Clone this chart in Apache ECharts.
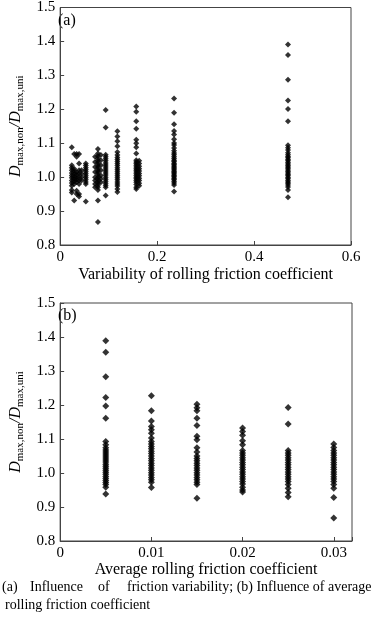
<!DOCTYPE html>
<html>
<head>
<meta charset="utf-8">
<script src="https://cdn.jsdelivr.net/npm/echarts@6/dist/echarts.min.js"></script>
<style>
html,body{margin:0;padding:0;background:#fff;}
#chart{width:371px;height:617px;}
</style>
</head>
<body>
<div id="chart"></div>
<script>
// ---------- Data (a): variability of rolling friction coefficient ----------
const colsA_x = [0.024, 0.029, 0.034, 0.039, 0.044, 0.053, 0.072, 0.078, 0.084, 0.094, 0.118, 0.157, 0.163, 0.235, 0.47];
const colA_0024 = [1.088, 1.035, 1.028, 1.020, 1.012, 1.005, 0.998, 0.990, 0.983, 0.975, 0.962, 0.955];
const colA_0029 = [1.068, 1.025, 1.018, 1.010, 1.002, 0.995, 0.988, 0.980, 0.931];
const colA_0034 = [1.068, 1.060, 1.015, 1.008, 1.000, 0.992, 0.985, 0.960, 0.950];
const colA_0039 = [1.068, 1.040, 1.020, 1.010, 1.000, 0.990, 0.980, 0.950, 0.943];
const colA_0044 = [1.020, 1.010, 1.000, 0.990];
const colA_0053 = [1.040, 1.034, 1.028, 1.022, 1.016, 1.010, 1.004, 0.998, 0.992, 0.986, 0.980, 0.928];
const colA_0072 = [1.060, 1.045, 1.030, 1.015, 1.000, 0.990, 0.980, 0.970];
const colA_0078 = [1.083, 1.070, 1.062, 1.055, 1.048, 1.042, 1.036, 1.030, 1.024, 1.018, 1.012, 1.006, 1.000, 0.994, 0.988, 0.982, 0.976, 0.970, 0.962, 0.931, 0.868];
const colA_0084 = [1.065, 1.050, 1.035, 1.020, 1.005, 0.995, 0.985];
const colA_0094 = [1.198, 1.146, 1.066, 1.060, 1.054, 1.048, 1.042, 1.036, 1.030, 1.024, 1.018, 1.012, 1.006, 1.000, 0.994, 0.988, 0.982, 0.976, 0.970, 0.946];
const colA_0118 = [1.135, 1.120, 1.106, 1.091, 1.074, 1.065, 1.058, 1.052, 1.046, 1.040, 1.034, 1.028, 1.022, 1.016, 1.010, 1.004, 0.998, 0.992, 0.986, 0.980, 0.974, 0.965, 0.956];
const colA_0157 = [1.208, 1.193, 1.165, 1.143, 1.110, 1.100, 1.088, 1.070, 1.050, 1.045, 1.040, 1.035, 1.030, 1.025, 1.020, 1.015, 1.010, 1.005, 1.000, 0.995, 0.990, 0.985, 0.978, 0.970, 0.965];
const colA_0163 = [1.048, 1.040, 1.032, 1.025, 1.018, 1.011, 1.004, 0.997, 0.990, 0.982, 0.975];
const colA_0235 = [1.232, 1.190, 1.156, 1.136, 1.126, 1.112, 1.101, 1.095, 1.086, 1.078, 1.071, 1.066, 1.060, 1.055, 1.050, 1.046, 1.041, 1.037, 1.033, 1.029, 1.025, 1.021, 1.017, 1.013, 1.009, 1.005, 1.001, 0.997, 0.993, 0.988, 0.983, 0.977, 0.958];
const colA_047 = [1.391, 1.360, 1.287, 1.226, 1.201, 1.165, 1.094, 1.087, 1.080, 1.072, 1.066, 1.061, 1.057, 1.052, 1.048, 1.043, 1.039, 1.034, 1.030, 1.026, 1.021, 1.017, 1.012, 1.008, 1.004, 0.999, 0.995, 0.990, 0.986, 0.982, 0.977, 0.971, 0.962, 0.941];
const colsA_y = [colA_0024, colA_0029, colA_0034, colA_0039, colA_0044, colA_0053, colA_0072, colA_0078, colA_0084, colA_0094, colA_0118, colA_0157, colA_0163, colA_0235, colA_047];

// ---------- Data (b): average rolling friction coefficient ----------
const colsB_x = [0.005, 0.01, 0.015, 0.02, 0.025, 0.03];
const colB_0005 = [1.389, 1.355, 1.283, 1.222, 1.197, 1.161, 1.093, 1.083, 1.074, 1.068, 1.062, 1.056, 1.050, 1.044, 1.038, 1.032, 1.026, 1.020, 1.014, 1.008, 1.002, 0.996, 0.990, 0.984, 0.978, 0.972, 0.966, 0.958, 0.938];
const colB_001 = [1.227, 1.183, 1.153, 1.137, 1.127, 1.117, 1.103, 1.093, 1.085, 1.078, 1.071, 1.064, 1.057, 1.050, 1.043, 1.036, 1.029, 1.022, 1.015, 1.008, 1.001, 0.994, 0.987, 0.980, 0.973, 0.957];
const colB_0015 = [1.202, 1.192, 1.183, 1.161, 1.140, 1.108, 1.098, 1.074, 1.062, 1.050, 1.043, 1.036, 1.029, 1.022, 1.015, 1.008, 1.001, 0.994, 0.987, 0.980, 0.973, 0.966, 0.926];
const colB_002 = [1.132, 1.122, 1.111, 1.095, 1.083, 1.066, 1.059, 1.052, 1.045, 1.038, 1.031, 1.024, 1.017, 1.010, 1.003, 0.996, 0.989, 0.982, 0.975, 0.968, 0.958, 0.950, 0.944];
const colB_0025 = [1.193, 1.144, 1.066, 1.059, 1.052, 1.045, 1.038, 1.031, 1.024, 1.017, 1.010, 1.003, 0.996, 0.989, 0.982, 0.975, 0.966, 0.955, 0.943, 0.930];
const colB_003 = [1.085, 1.075, 1.066, 1.059, 1.052, 1.045, 1.038, 1.031, 1.024, 1.017, 1.010, 1.003, 0.996, 0.989, 0.982, 0.975, 0.966, 0.955, 0.928, 0.868];
const colsB_y = [colB_0005, colB_001, colB_0015, colB_002, colB_0025, colB_003];

// ---------- Tick labels / texts ----------
const xTicksA = {0: '0', 0.2: '0.2', 0.4: '0.4', 0.6: '0.6'};
const xTicksB = {0: '0', 0.01: '0.01', 0.02: '0.02', 0.03: '0.03'};
const xNameA = 'Variability of rolling friction coefficient';
const xNameB = 'Average rolling friction coefficient';
const panelA = '(a)';
const panelB = '(b)';
const captionParts = ['(a)', 'Influence', 'of', 'friction variability; (b) Influence of average'];
const captionLine2 = 'rolling friction coefficient';

function pairs(xs, ys) {
  const out = [];
  xs.forEach((x, i) => ys[i].forEach(y => out.push([x, y])));
  return out;
}

const FONT = '"Liberation Serif", "DejaVu Serif", serif';
const frame = '#444';

function xAxis(gi, max, interval, ticks, name, gap) {
  return {
    type: 'value', gridIndex: gi, min: 0, max: max, interval: interval,
    splitLine: {show: false},
    axisLine: {show: true, onZero: false, lineStyle: {color: frame, width: 1}},
    axisTick: {show: true, inside: true, length: 4, lineStyle: {color: frame}},
    axisLabel: {color: '#000', fontFamily: FONT, fontSize: 15, margin: 5,
      formatter: v => { const k = Math.round(v * 1000) / 1000; return ticks[k] !== undefined ? ticks[k] : ''; }},
    name: name, nameLocation: 'middle', nameGap: gap,
    nameTextStyle: {color: '#000', fontFamily: FONT, fontSize: 16}
  };
}
function yAxis(gi) {
  return {
    type: 'value', gridIndex: gi, min: 0.8, max: 1.5, interval: 0.1,
    splitLine: {show: false},
    axisLine: {show: true, lineStyle: {color: frame, width: 1}},
    axisTick: {show: true, inside: true, length: 4, lineStyle: {color: frame}},
    axisLabel: {color: '#000', fontFamily: FONT, fontSize: 15, margin: 5,
      formatter: v => v.toFixed(1)},
    name: '{d|D}{s|max,non}{d|/D}{s|max,uni}',
    nameLocation: 'middle', nameRotate: 90, nameGap: 33,
    nameTextStyle: {
      color: '#000', fontFamily: FONT,
      rich: {
        d: {fontFamily: FONT, fontStyle: 'italic', fontSize: 16, lineHeight: 19, color: '#000'},
        s: {fontFamily: FONT, fontSize: 11, lineHeight: 10, verticalAlign: 'bottom', color: '#000'}
      }
    }
  };
}

const capFont = '14px ' + FONT;
const capX = [2, 30, 98, 127];

const chart = echarts.init(document.getElementById('chart'), null, {renderer: 'canvas'});
chart.setOption({
  animation: false,
  backgroundColor: '#fff',
  grid: [
    {left: 54, top: 5, width: 297, height: 240, show: true, borderColor: frame, borderWidth: 1, containLabel: false},
    {left: 54, top: 303, width: 298, height: 238, show: true, borderColor: frame, borderWidth: 1, containLabel: false}
  ],
  xAxis: [xAxis(0, 0.6, 0.2, xTicksA, xNameA, 22), xAxis(1, 0.032, 0.01, xTicksB, xNameB, 19)],
  yAxis: [yAxis(0), yAxis(1)],
  series: [
    {type: 'scatter', xAxisIndex: 0, yAxisIndex: 0, symbol: 'diamond', symbolSize: 6,
     itemStyle: {color: '#000'}, data: pairs(colsA_x, colsA_y)},
    {type: 'scatter', xAxisIndex: 1, yAxisIndex: 1, symbol: 'diamond', symbolSize: 7,
     itemStyle: {color: '#000'}, data: pairs(colsB_x, colsB_y)}
  ],
  graphic: [
    {type: 'text', left: 58, top: 13, style: {text: panelA, font: '16px ' + FONT, fill: '#000'}},
    {type: 'text', left: 58, top: 308, style: {text: panelB, font: '16px ' + FONT, fill: '#000'}}
  ].concat(captionParts.map((t, i) => ({
    type: 'text', left: capX[i], top: 580, style: {text: t, font: capFont, fill: '#000'}
  }))).concat([
    {type: 'text', left: 5, top: 598, style: {text: captionLine2, font: capFont, fill: '#000'}}
  ])
});
</script>
</body>
</html>
